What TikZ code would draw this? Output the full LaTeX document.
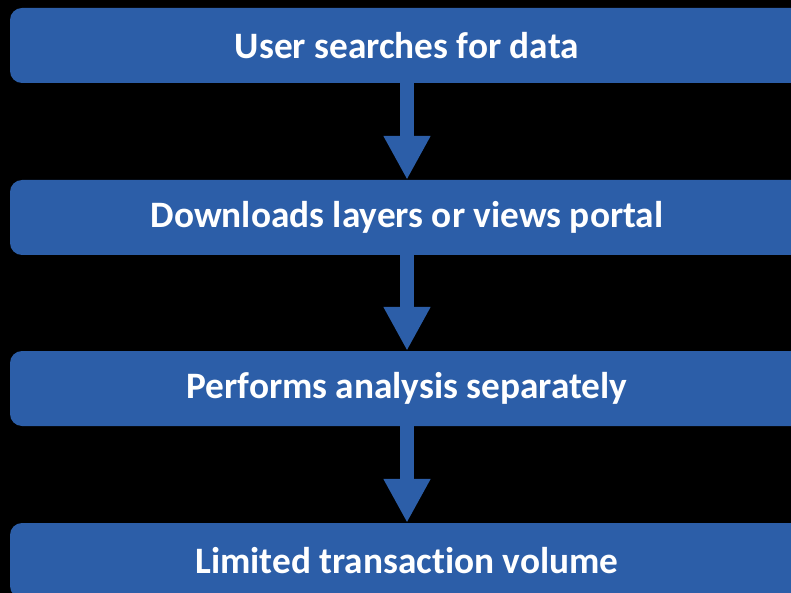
\documentclass[tikz,border=0pt]{standalone}
\usepackage{fontspec}
\setmainfont{Carlito}[Ligatures=NoCommon]
\usetikzlibrary{arrows.meta,positioning}
\definecolor{boxblue}{HTML}{2C5EA8}

\begin{document}
\begin{tikzpicture}[x=1pt,y=1pt]
\fill[black] (0,0) rectangle (791,-593);
\clip (0,0) rectangle (791,-593);
\tikzset{stepbox/.style={fill=boxblue,rounded corners=12pt,minimum width=794pt,minimum height=75pt,inner sep=0pt,text=white,font=\bfseries\fontsize{37.3}{40}\selectfont},
flow/.style={boxblue,line width=14pt,-{Triangle[length=44pt,width=44pt]}}}
\node[stepbox] (search) at (407,-45.5){User searches for data};
\node[stepbox] (download) at (407,-217.5){Downloads layers or views portal};
\node[stepbox] (analysis) at (407,-388.5){Performs analysis separately};
\node[stepbox] (volume) at (407,-560.5){Limited transaction volume};
\draw[flow] (search.south) -- (download.north);
\draw[flow] (download.south) -- (analysis.north);
\draw[flow] (analysis.south) -- (volume.north);
\end{tikzpicture}
\end{document}
